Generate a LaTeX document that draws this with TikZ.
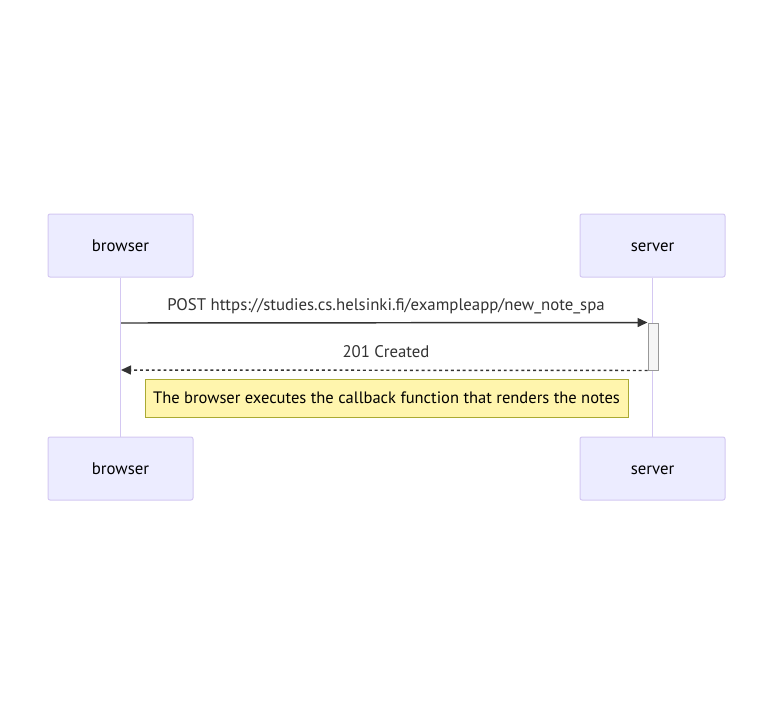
\documentclass[tikz,border=0pt]{standalone}
\usepackage{fontspec}
\setmainfont{PT Sans}
\usetikzlibrary{arrows.meta}
\definecolor{actfill}{HTML}{ECECFF}
\definecolor{actline}{HTML}{D4C8F2}
\definecolor{notefill}{HTML}{FFF5AD}
\definecolor{noteline}{HTML}{AAAA33}
\definecolor{txt}{HTML}{333333}
\begin{document}
\begin{tikzpicture}[x=0.75pt, y=-0.75pt,
	every node/.style={text height=1.9ex, text depth=0.2ex},
	actor/.style={draw=actline, fill=actfill, rounded corners=1.5pt, line width=0.75pt,
		minimum width=108.75pt, minimum height=47.25pt, text=black, font=\fontsize{12.6}{14}\selectfont},
	lifeline/.style={draw=actline, line width=0.9pt},
	msg/.style={draw=txt, line width=1.1pt, -{Triangle[length=7.5pt,width=6.75pt]}},
	reply/.style={msg, dash pattern=on 2.2pt off 2.2pt},
	lbl/.style={text=txt, font=\fontsize{12.6}{14}\selectfont},
	notebox/.style={draw=noteline, fill=notefill, line width=0.75pt, minimum width=362.25pt,
		minimum height=28.5pt, text=black, font=\fontsize{12.4}{14}\selectfont},
	activ/.style={draw=gray!80, fill=black!4, line width=0.75pt, minimum width=7.5pt, minimum height=35.25pt, inner sep=0pt}]
	\useasboundingbox[fill=white] (0,0) rectangle (774,715);
	\node[actor] (bt) at (120.5,245.5) {browser};
	\node[actor] (st) at (652.5,245.5) {server};
	\node[actor] (bb) at (120.5,468.5) {browser};
	\node[actor] (sb) at (652.5,468.5) {server};
	\foreach \from/\to in {bt/bb, st/sb}
	\draw[lifeline] (\from.south) -- (\to.north);
	\node[activ] (act) at (653,346.5) {};
	\coordinate (p1) at (121,323);
	\coordinate (r1) at (121,370);
	\draw[msg] (p1) -- (act.north west);
	\draw[reply] (act.south west) -- (r1);
	\node[lbl] (post) at (386,305) {POST https://studies.cs.helsinki.fi/exampleapp/new\_note\_spa};
	\node[lbl] (created) at (386,352) {201 Created};
	\node[notebox] (note) at (386.5,398) {The browser executes the callback function that renders the notes};
\end{tikzpicture}
\end{document}
